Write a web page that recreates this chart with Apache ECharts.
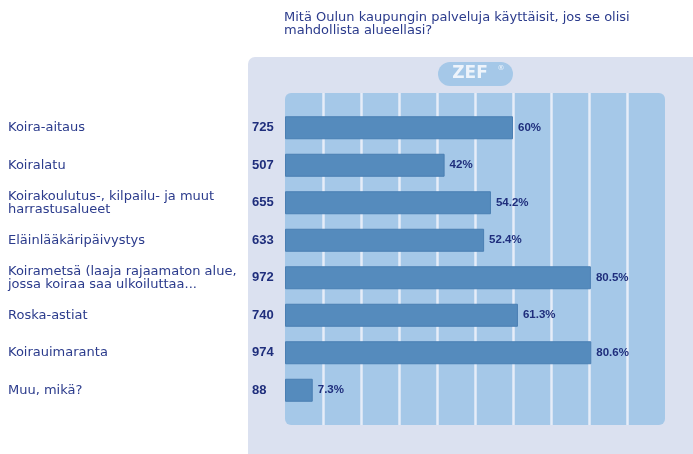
<!DOCTYPE html>
<html>
<head>
<meta charset="utf-8">
<script src="https://cdn.jsdelivr.net/npm/echarts@6/dist/echarts.min.js"></script>
<style>
  html, body { margin: 0; padding: 0; background: #fff; }
  #chart { width: 693px; height: 454px; }
</style>
</head>
<body>
<div id="chart"></div>
<script>
const titleText = 'Mitä Oulun kaupungin palveluja käyttäisit, jos se olisi\nmahdollista alueellasi?'

const categories = [
  'Koira-aitaus',
  'Koiralatu',
  'Koirakoulutus-, kilpailu- ja muut\nharrastusalueet',
  'Eläinlääkäripäivystys',
  'Koirametsä (laaja rajaamaton alue,\njossa koiraa saa ulkoiluttaa...',
  'Roska-astiat',
  'Koirauimaranta',
  'Muu, mikä?'
]
const counts = [725, 507, 655, 633, 972, 740, 974, 88]
const percents = [60, 42, 54.2, 52.4, 80.5, 61.3, 80.6, 7.3]

const navy = '#2b3b8c'
const chart = echarts.init(document.getElementById('chart'))

const option = {
  backgroundColor: '#ffffff',
  animation: false,
  textStyle: { fontFamily: 'DejaVu Sans' },
  title: {
    text: titleText,
    left: 284,
    top: 11,
    padding: 0,
    textStyle: { color: navy, fontSize: 13, fontWeight: 'normal', lineHeight: 13, fontFamily: 'DejaVu Sans' }
  },
  graphic: [
    // outer panel
    {
      type: 'rect', z: -10,
      shape: { x: 248, y: 57, width: 460, height: 410, r: [7, 0, 0, 0] },
      style: { fill: '#dbe1f0' }
    },
    // plot background with rounded corners
    {
      type: 'rect', z: -8,
      shape: { x: 285, y: 93, width: 380, height: 332, r: 6 },
      style: { fill: '#a5c8e8' }
    },
    // ZEF badge
    {
      type: 'rect', z: -5,
      shape: { x: 438, y: 62, width: 75, height: 24, r: 12 },
      style: { fill: '#a5c8e8' }
    },
    {
      type: 'text', z: -4,
      style: { x: 470, y: 74, text: 'ZEF', fill: '#eef4fb', font: 'bold 17px "DejaVu Sans"', align: 'center', verticalAlign: 'middle' }
    },
    {
      type: 'text', z: -4,
      style: { x: 501, y: 68, text: '®', fill: '#eef4fb', font: '7px "DejaVu Sans"', align: 'center', verticalAlign: 'middle' }
    }
  ],
  grid: [
    { left: 285, width: 380, top: 93, height: 332 },
    { left: 285, width: 380, top: 109, height: 300 }
  ],
  xAxis: [
    {
      gridIndex: 0, type: 'value', min: 0, max: 100, interval: 10,
      axisLine: { show: false }, axisTick: { show: false }, axisLabel: { show: false },
      splitLine: { show: true, showMinLine: false, showMaxLine: false, lineStyle: { color: '#e6edf8', width: 2.5 } }
    },
    {
      gridIndex: 1, type: 'value', min: 0, max: 100,
      axisLine: { show: false }, axisTick: { show: false }, axisLabel: { show: false }, splitLine: { show: false }
    }
  ],
  yAxis: [
    {
      gridIndex: 0, type: 'category', data: [''], show: false
    },
    {
      gridIndex: 1, type: 'category', data: categories, inverse: true,
      axisLine: { show: false }, axisTick: { show: false },
      axisLabel: { align: 'left', margin: 277, color: navy, fontSize: 13, lineHeight: 13, fontFamily: 'DejaVu Sans' }
    },
    {
      gridIndex: 1, type: 'category', data: counts.map(String), inverse: true, position: 'left',
      axisLine: { show: false }, axisTick: { show: false },
      axisLabel: { align: 'left', margin: 33, color: '#1f2e7c', fontSize: 13, fontWeight: 'bold', fontFamily: 'Liberation Sans Narrow, Liberation Sans' }
    }
  ],
  series: [
    {
      type: 'bar',
      xAxisIndex: 1,
      yAxisIndex: 1,
      data: percents,
      barWidth: 23,
      itemStyle: { color: '#558bbd', borderColor: '#4a7fb3', borderWidth: 1 },
      label: {
        show: true,
        position: 'right',
        distance: 5,
        formatter: p => p.value + '%',
        color: '#1f2e7c',
        fontSize: 11.5,
        fontWeight: 'bold',
        fontFamily: 'Liberation Sans Narrow, Liberation Sans'
      }
    }
  ]
}

chart.setOption(option)
</script>
</body>
</html>
